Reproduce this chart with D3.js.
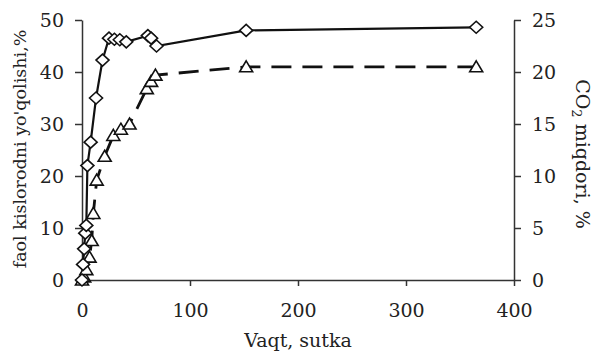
<!DOCTYPE html>
<html>
<head>
<meta charset="utf-8">
<script src="https://cdn.jsdelivr.net/npm/d3@7"></script>
<style>
  body { margin: 0; background: #fff; }
  .axis text { font-family: "DejaVu Serif", serif; font-size: 19px; fill: #222; }
  .axis line, .axis path { stroke: #333; stroke-width: 1.5px; }
  .label { font-family: "DejaVu Serif", serif; font-size: 19px; fill: #222; }
</style>
</head>
<body>
<svg id="chart"></svg>
<script>
// active oxygen loss (left axis), days
var o2Days   = [0, 1, 2, 3, 4, 5, 8, 13, 19, 25, 30, 35, 41, 61, 64, 69, 152, 365];
var o2Values = [0, 3, 6, 9, 10.5, 22, 26.5, 35, 42.3, 46.5, 46.3, 46.2, 45.8, 47, 46.5, 45, 48, 48.6];
// CO2 amount (right axis)
var co2Days   = [0, 2, 4, 7, 9, 10.5, 13.6, 21, 29, 36, 44, 60, 64, 68, 152, 365];
var co2Values = [0, 0.3, 1, 2.2, 3.8, 6.4, 9.6, 11.9, 13.9, 14.5, 15, 18.4, 19.1, 19.7, 20.5, 20.5];

var xTicks = [0, 100, 200, 300, 400];
var leftTicks = [0, 10, 20, 30, 40, 50];
var rightTicks = [0, 5, 10, 15, 20, 25];

var W = 596, H = 353;
var margin = {top: 20, right: 82, bottom: 73, left: 82},
    width = W - margin.left - margin.right,
    height = H - margin.top - margin.bottom;

var svg = d3.select("#chart").attr("width", W).attr("height", H)
  .append("g")
    .attr("transform", "translate(" + margin.left + "," + margin.top + ")");

var x = d3.scaleLinear().domain([0, 400]).range([0, width]);
var yL = d3.scaleLinear().domain([0, 50]).range([height, 0]);
var yR = d3.scaleLinear().domain([0, 25]).range([height, 0]);

svg.append("g")
  .attr("class", "axis")
  .attr("transform", "translate(0," + height + ")")
  .call(d3.axisBottom(x).tickValues(xTicks).tickSize(6).tickPadding(18).tickSizeOuter(0));

svg.append("g")
  .attr("class", "axis")
  .call(d3.axisLeft(yL).tickValues(leftTicks).tickSize(7).tickPadding(11).tickSizeOuter(0));

svg.append("g")
  .attr("class", "axis")
  .attr("transform", "translate(" + width + ",0)")
  .call(d3.axisRight(yR).tickValues(rightTicks).tickSize(7).tickPadding(11).tickSizeOuter(0));

// lines
var o2 = o2Days.map(function(d, i) { return [d, o2Values[i]]; });
var co2 = co2Days.map(function(d, i) { return [d, co2Values[i]]; });

svg.append("path")
  .datum(co2)
  .attr("fill", "none")
  .attr("stroke", "#111")
  .attr("stroke-width", 2.8)
  .attr("stroke-dasharray", "20,11")
  .attr("d", d3.line().x(d => x(d[0])).y(d => yR(d[1])));

svg.append("path")
  .datum(o2)
  .attr("fill", "none")
  .attr("stroke", "#111")
  .attr("stroke-width", 2.2)
  .attr("d", d3.line().x(d => x(d[0])).y(d => yL(d[1])));

// markers
svg.append("g")
  .selectAll("path")
  .data(co2)
  .join("path")
    .attr("transform", d => "translate(" + x(d[0]) + "," + yR(d[1]) + ")")
    .attr("d", "M0,-6L6.5,5L-6.5,5Z")
    .attr("fill", "#fff")
    .attr("stroke", "#111")
    .attr("stroke-width", 1.6);

svg.append("g")
  .selectAll("path")
  .data(o2)
  .join("path")
    .attr("transform", d => "translate(" + x(d[0]) + "," + yL(d[1]) + ")")
    .attr("d", "M0,-6L6.5,0L0,6L-6.5,0Z")
    .attr("fill", "#fff")
    .attr("stroke", "#111")
    .attr("stroke-width", 1.6);

// axis labels
svg.append("text")
  .attr("class", "label")
  .style("font-size", "17.5px")
  .attr("transform", "translate(" + (-56) + "," + (height / 2 - 1) + ") rotate(-90)")
  .style("text-anchor", "middle")
  .text("faol kislorodni yo'qolishi,%");

svg.append("text")
  .attr("class", "label")
  .attr("x", width / 2)
  .attr("y", height + 67)
  .style("text-anchor", "middle")
  .text("Vaqt, sutka");

var rl = svg.append("text")
  .attr("class", "label")
  .attr("transform", "translate(" + (width + 62) + "," + (height / 2 + 4) + ") rotate(90)")
  .style("text-anchor", "middle");
rl.append("tspan").text("CO");
rl.append("tspan").text("2").style("font-size", "13px").attr("dy", 4);
rl.append("tspan").text(" miqdori, %").attr("dy", -4);
</script>
</body>
</html>
